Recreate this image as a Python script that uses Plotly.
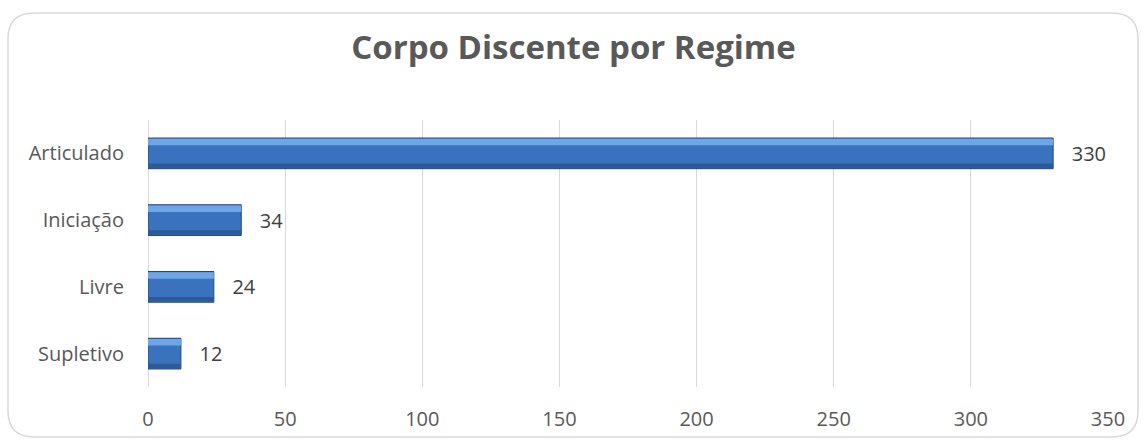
import plotly.graph_objects as go

categories = ["Articulado", "Iniciação", "Livre", "Supletivo"]
values = [330, 34, 24, 12]
x_ticks = [0, 50, 100, 150, 200, 250, 300, 350]
title_text = "Corpo Discente por Regime"

W, H = 1147, 442
L, R, T, B = 148, 39, 120, 55
pw, ph = W - L - R, H - T - B

def px2paper(x, y):
    return (x - L) / pw, (H - B - y) / ph

FONT = "Open Sans, Liberation Sans"

fig = go.Figure()
# main bar
fig.add_trace(go.Bar(
    y=categories, x=values, orientation="h",
    width=0.46, offset=-0.23,
    marker=dict(color="#3B72BD", line=dict(color="#1F4778", width=1)),
    text=[str(v) for v in values], texttemplate="   %{text}", textposition="outside",
    textfont=dict(family=FONT, size=20, color="#404040"),
    cliponaxis=False, hoverinfo="skip",
))
# top light bevel
fig.add_trace(go.Bar(
    y=categories, x=values, orientation="h",
    width=0.10, offset=-0.22,
    marker=dict(color="#6FA6E8", line=dict(width=0)),
    hoverinfo="skip",
))
# bottom dark bevel
fig.add_trace(go.Bar(
    y=categories, x=values, orientation="h",
    width=0.07, offset=0.15,
    marker=dict(color="#2C5A98", line=dict(width=0)),
    hoverinfo="skip",
))

# rounded border
x0, y0 = px2paper(8, 437)
x1, y1 = px2paper(1138, 13)
rx = 26 / pw
ry = 26 / ph
path = (f"M {x0+rx},{y1} L {x1-rx},{y1} Q {x1},{y1} {x1},{y1-ry} "
        f"L {x1},{y0+ry} Q {x1},{y0} {x1-rx},{y0} L {x0+rx},{y0} "
        f"Q {x0},{y0} {x0},{y0+ry} L {x0},{y1-ry} Q {x0},{y1} {x0+rx},{y1} Z")
fig.add_shape(type="path", path=path, xref="paper", yref="paper",
              line=dict(color="#D9D9D9", width=1.5), layer="below")

fig.update_layout(
    width=W, height=H,
    margin=dict(l=L, r=R, t=T, b=B, autoexpand=False),
    paper_bgcolor="white", plot_bgcolor="white",
    barmode="overlay", showlegend=False,
    title=dict(text=f"<b>{title_text}</b>", x=0.5, xref="container", xanchor="center",
               y=(H - 47) / H, yanchor="middle",
               font=dict(family=FONT, size=33, color="#595959")),
    xaxis=dict(range=[0, 350], tickvals=x_ticks, showgrid=True, gridcolor="#D9D9D9",
               gridwidth=1, zeroline=True, zerolinecolor="#D9D9D9", zerolinewidth=1,
               showline=False, ticks="", automargin=False, ticklabelstandoff=18,
               tickfont=dict(family=FONT, size=20, color="#595959")),
    yaxis=dict(autorange="reversed", showgrid=False, showline=False, ticks="",
               automargin=False, ticklabelstandoff=23,
               tickfont=dict(family=FONT, size=20, color="#595959")),
)

fig.write_html("out.html", config={"displayModeBar": False},
               post_script="document.body.style.margin='0';document.body.style.overflow='hidden';")
